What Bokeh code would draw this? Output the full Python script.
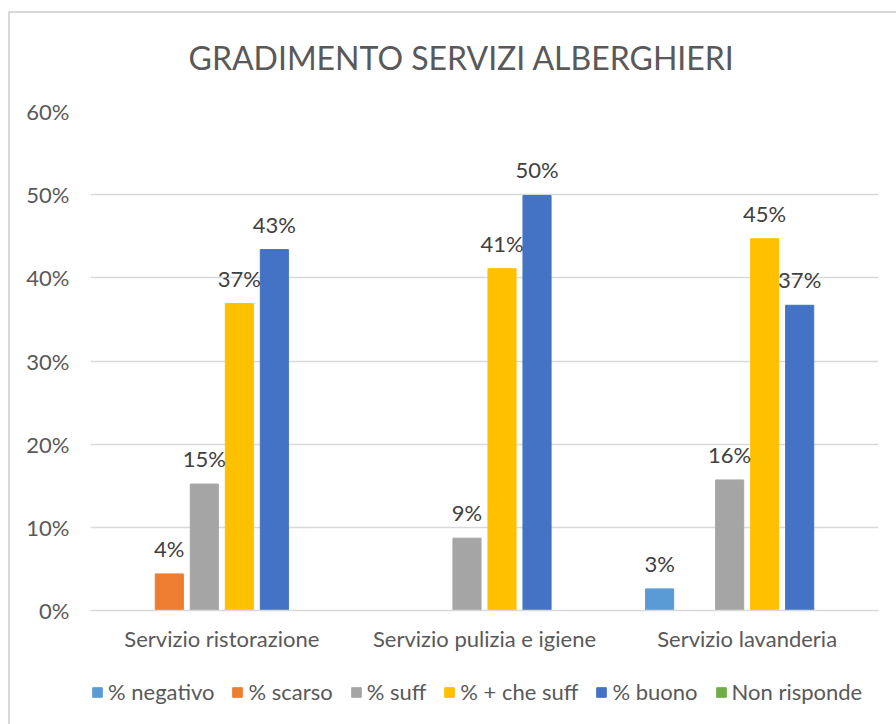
import math
from bokeh.plotting import figure
from bokeh.layouts import column
from bokeh.models import ColumnDataSource, Legend, LegendItem, FixedTicker, NumeralTickFormatter, LabelSet
from bokeh.core.properties import value
from bokeh.embed import file_html
from bokeh.resources import INLINE

categories = ["Servizio ristorazione", "Servizio pulizia e igiene", "Servizio lavanderia"]
series = ["% negativo", "% scarso", "% suff", "% + che suff", "% buono", "Non risponde"]
colors = ["#5B9BD5", "#ED7D31", "#A5A5A5", "#FFC000", "#4472C4", "#70AD47"]
nan = float("nan")
negativo = [nan, nan, 0.026]
scarso = [0.044, nan, nan]
suff = [0.152, 0.087, 0.157]
piu_che_suff = [0.369, 0.411, 0.447]
buono = [0.434, 0.499, 0.367]
non_risponde = [nan, nan, nan]
values = [negativo, scarso, suff, piu_che_suff, buono, non_risponde]
y_ticks = [0, 0.1, 0.2, 0.3, 0.4, 0.5, 0.6]
title_text = "GRADIMENTO SERVIZI ALBERGHIERI"

FONT = "Lato"
TXT = "#595959"
W = 886
FRAME_W = 788  # frames of the strips are aligned with the main chart frame


def strip(height):
    f = figure(width=W, height=height, output_backend="svg", toolbar_location=None,
               x_range=(0, FRAME_W), y_range=(0, height), x_axis_type=None, y_axis_type=None,
               min_border=0, min_border_left=0, min_border_right=0,
               min_border_top=0, min_border_bottom=0)
    f.grid.visible = False
    f.outline_line_color = None
    return f


# ---- title strip ----
tf = strip(75)
tf.text(x=[98], y=[75 - 44], text=[title_text], text_align="left",
        text_baseline="middle", text_font=value(FONT), text_font_size="32px",
        text_color=TXT)

# ---- main chart ----
p = figure(width=W, height=575, output_backend="svg", toolbar_location=None,
           x_range=(-0.5, 2.5), y_range=(0, 0.6),
           min_border_left=80, min_border_right=18, min_border_top=23, min_border_bottom=53)

step = 0.1333
bw = 0.107
for i, (name, vals, col) in enumerate(zip(series, values, colors)):
    xs = [c + (i - 2.5) * step for c in range(len(categories))]
    src = ColumnDataSource(dict(x=xs, top=vals))
    p.vbar(x="x", top="top", width=bw, source=src, fill_color=col, line_color=col)
    lx, ly, lt = [], [], []
    for x, v in zip(xs, vals):
        if not math.isnan(v):
            lx.append(x); ly.append(v); lt.append(f"{round(v * 100)}%")
    lsrc = ColumnDataSource(dict(x=lx, y=ly, t=lt))
    p.add_layout(LabelSet(x="x", y="y", text="t", source=lsrc, text_align="center",
                          text_baseline="bottom", y_offset=12, text_font=value(FONT),
                          text_font_size=value("22px"), text_color=value("#404040")))

p.xaxis.ticker = FixedTicker(ticks=[0, 1, 2])
p.xaxis.major_label_overrides = {0: categories[0], 1: categories[1], 2: categories[2]}
p.xaxis.axis_line_color = "#d9d9d9"
p.xaxis.axis_line_width = 1.3
p.xaxis.major_tick_line_color = None
p.xaxis.minor_tick_line_color = None
p.xaxis.major_label_text_font = FONT
p.xaxis.major_label_text_font_size = "22px"
p.xaxis.major_label_text_color = TXT
p.xaxis.major_label_standoff = 8

p.yaxis.ticker = FixedTicker(ticks=y_ticks)
p.yaxis.formatter = NumeralTickFormatter(format="0%")
p.yaxis.axis_line_color = None
p.yaxis.major_tick_line_color = None
p.yaxis.minor_tick_line_color = None
p.yaxis.major_label_text_font = FONT
p.yaxis.major_label_text_font_size = "22px"
p.yaxis.major_label_text_color = TXT
p.yaxis.major_label_standoff = 15

p.xgrid.grid_line_color = None
p.ygrid.grid_line_color = "#d9d9d9"
p.ygrid.grid_line_width = 1.3
p.outline_line_color = None

# ---- legend strip ----
lf = strip(61)
items = []
for name, col in zip(series, colors):
    r = lf.vbar(x=[-500], top=[-400], bottom=[-500], width=10, fill_color=col, line_color=col)
    items.append(LegendItem(label=name, renderers=[r]))
legend = Legend(items=items, orientation="horizontal", location=(1, 19),
                label_text_font=FONT, label_text_font_size="22px", label_text_color=TXT,
                glyph_width=12, glyph_height=12, label_standoff=5, spacing=17,
                border_line_color=None, background_fill_alpha=0, margin=0, padding=0)
lf.add_layout(legend)

layout = column(tf, p, lf, spacing=0, margin=(11, 0, 0, 8),
                styles={"border-left": "2px solid #d9d9d9", "border-top": "2px solid #d9d9d9"})

open("out.html", "w").write(file_html(layout, INLINE))
